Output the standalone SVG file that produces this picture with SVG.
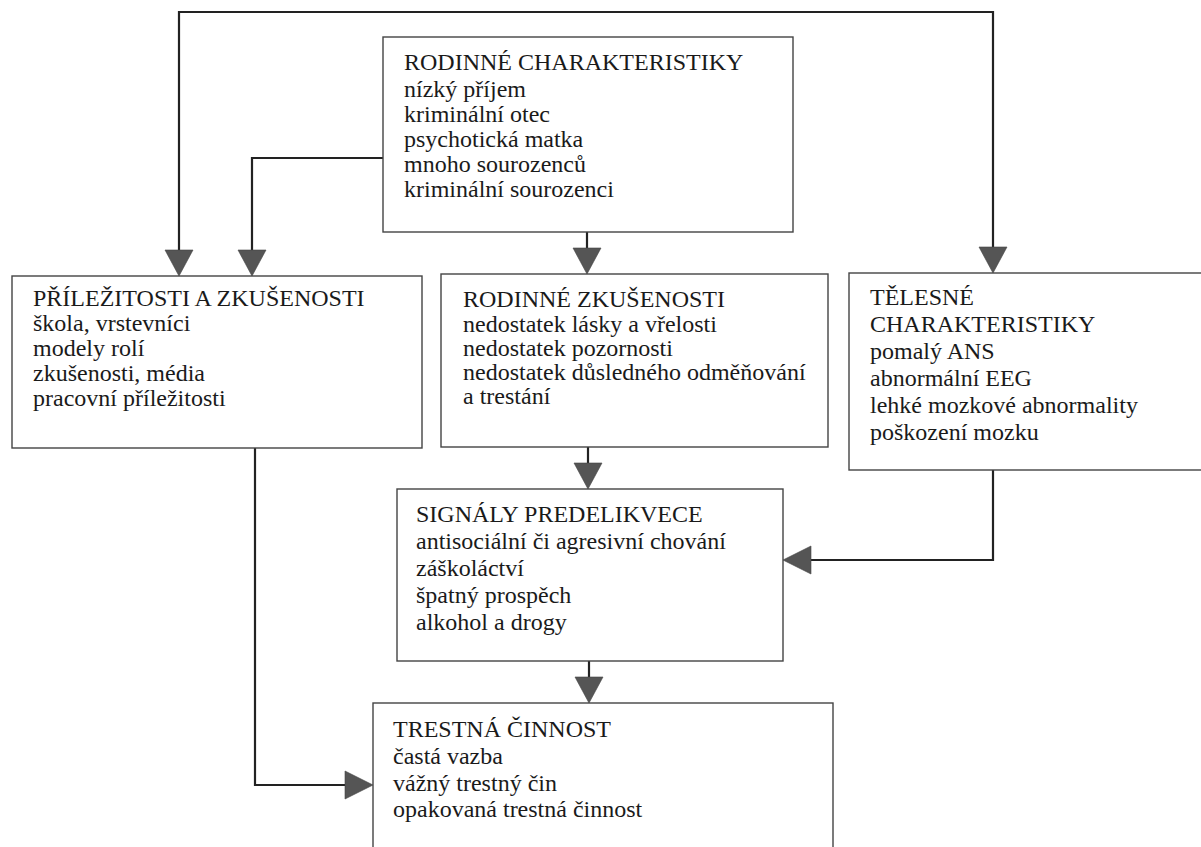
<svg xmlns="http://www.w3.org/2000/svg" width="1201" height="847" viewBox="0 0 1201 847">
<style>
.box{fill:#fff;stroke:#444;stroke-width:1.4}
.t{font-family:"Liberation Serif","Times New Roman",serif;font-size:24px;fill:#1a1a1a}
.ln{fill:none;stroke:#222;stroke-width:2.2}
.ah{fill:#555;stroke:#444;stroke-width:0.6}
</style>
<defs>
<polygon id="down" points="-14,-26 14,-26 0,0"/>
<polygon id="right" points="-28,-14 -28,14 0,0"/>
<polygon id="left" points="28,-14 28,14 0,0"/>
</defs>
<rect width="1201" height="847" fill="#fff"/>
<g id="connectors">
<path class="ln" d="M179,252 V12 H993 V249"/>
<path class="ln" d="M383,158 H252 V252"/>
<path class="ln" d="M587,232 V250"/>
<path class="ln" d="M588,447 V465"/>
<path class="ln" d="M993,470 V560 H808"/>
<path class="ln" d="M589,661 V679"/>
<path class="ln" d="M255,448 V785 H346"/>
<use href="#down" class="ah" x="179" y="276"/>
<use href="#down" class="ah" x="252" y="276"/>
<use href="#down" class="ah" x="587" y="274"/>
<use href="#down" class="ah" x="993" y="273"/>
<use href="#down" class="ah" x="588" y="489"/>
<use href="#left" class="ah" x="783" y="560"/>
<use href="#down" class="ah" x="589" y="703"/>
<use href="#right" class="ah" x="373" y="785"/>
</g>
<g id="rodinne-charakteristiky">
<rect class="box" x="383" y="37" width="410" height="195"/>
<text class="t" x="404" y="70">RODINNÉ CHARAKTERISTIKY</text>
<text class="t" x="404" y="97">nízký příjem</text>
<text class="t" x="404" y="122">kriminální otec</text>
<text class="t" x="404" y="147">psychotická matka</text>
<text class="t" x="404" y="172">mnoho sourozenců</text>
<text class="t" x="404" y="197">kriminální sourozenci</text>
</g>
<g id="prilezitosti">
<rect class="box" x="12" y="276" width="410" height="172"/>
<text class="t" x="33" y="306">PŘÍLEŽITOSTI A ZKUŠENOSTI</text>
<text class="t" x="33" y="331">škola, vrstevníci</text>
<text class="t" x="33" y="356">modely rolí</text>
<text class="t" x="33" y="381">zkušenosti, média</text>
<text class="t" x="33" y="406">pracovní příležitosti</text>
</g>
<g id="rodinne-zkusenosti">
<rect class="box" x="441" y="274" width="387" height="173"/>
<text class="t" x="463" y="307">RODINNÉ ZKUŠENOSTI</text>
<text class="t" x="463" y="332">nedostatek lásky a vřelosti</text>
<text class="t" x="463" y="356">nedostatek pozornosti</text>
<text class="t" x="463" y="380">nedostatek důsledného odměňování</text>
<text class="t" x="463" y="404">a trestání</text>
</g>
<g id="telesne">
<rect class="box" x="849" y="273" width="400" height="197"/>
<text class="t" x="870" y="305">TĚLESNÉ</text>
<text class="t" x="870" y="332">CHARAKTERISTIKY</text>
<text class="t" x="870" y="359">pomalý ANS</text>
<text class="t" x="870" y="386">abnormální EEG</text>
<text class="t" x="870" y="413">lehké mozkové abnormality</text>
<text class="t" x="870" y="440">poškození mozku</text>
</g>
<g id="signaly">
<rect class="box" x="397" y="489" width="386" height="172"/>
<text class="t" x="416" y="522">SIGNÁLY PREDELIKVECE</text>
<text class="t" x="416" y="549">antisociální či agresivní chování</text>
<text class="t" x="416" y="576">záškoláctví</text>
<text class="t" x="416" y="603">špatný prospěch</text>
<text class="t" x="416" y="630">alkohol a drogy</text>
</g>
<g id="trestna-cinnost">
<rect class="box" x="373" y="703" width="460" height="200"/>
<text class="t" x="393" y="737">TRESTNÁ ČINNOST</text>
<text class="t" x="393" y="764">častá vazba</text>
<text class="t" x="393" y="791">vážný trestný čin</text>
<text class="t" x="393" y="817">opakovaná trestná činnost</text>
</g>
</svg>
